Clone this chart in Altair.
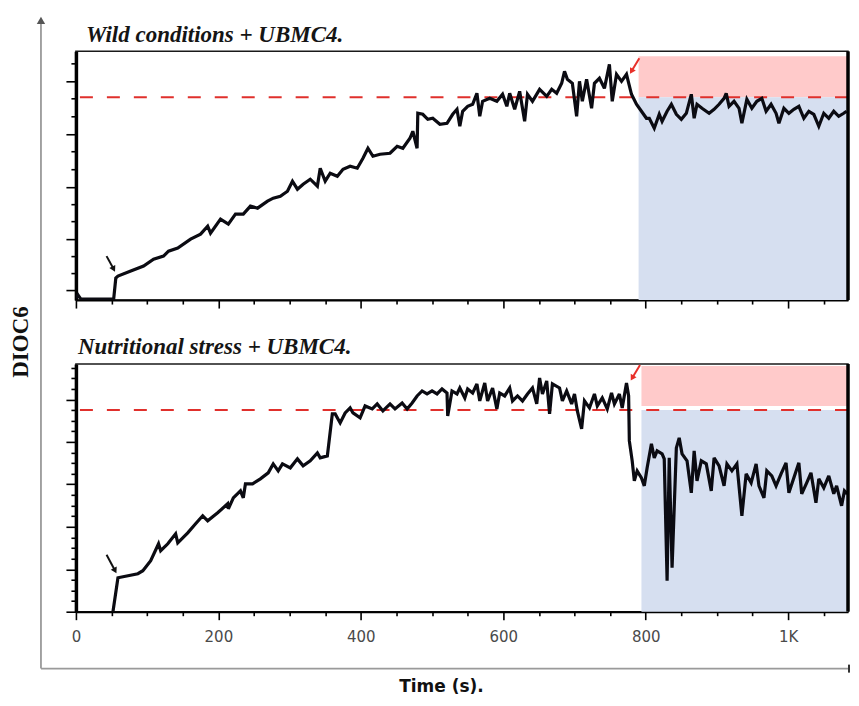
import altair as alt
import pandas as pd

# ---------------- data ----------------
# upper panel: Wild conditions + UBMC4
top_t = [0, 3, 7, 53, 56, 59, 77, 95, 109, 123,
         130, 143, 161, 175, 185, 189, 203, 214, 224, 235,
         245, 255, 269, 277, 287, 297, 304, 311, 319, 329,
         339, 343, 350, 357, 367, 375, 385, 395, 403, 410,
         417, 427, 441, 451, 459, 469, 473, 479, 480, 487,
         494, 501, 511, 521, 529, 535, 539, 543, 550, 557,
         563, 567, 571, 581, 591, 599, 605, 609, 616, 623,
         630, 634, 641, 651, 661, 668, 675, 682, 686, 690,
         697, 703, 707, 711, 717, 724, 728, 735, 742, 749,
         753, 759, 766, 773, 780, 787, 794, 801, 805, 812,
         819, 823, 830, 836, 843, 850, 857, 864, 868, 872,
         879, 889, 896, 903, 910, 913, 917, 924, 931, 935,
         942, 949, 956, 963, 969, 976, 983, 987, 994, 1001,
         1008, 1015, 1022, 1029, 1036, 1043, 1050, 1057, 1064, 1071,
         1078, 1082]
top_v = [2, 5, 1, 1, 22, 24, 29, 34, 41, 44,
         49, 52, 61, 66, 74, 67, 81, 76, 86, 86,
         94, 92, 99, 102, 104, 109, 119, 111, 116, 121,
         114, 132, 119, 127, 124, 131, 134, 132, 142, 152,
         144, 146, 147, 154, 152, 162, 169, 152, 187, 186,
         181, 182, 176, 177, 186, 191, 174, 189, 194, 196,
         207, 184, 199, 202, 199, 206, 194, 207, 191, 209,
         179, 206, 199, 211, 204, 211, 207, 217, 229, 221,
         217, 184, 219, 199, 221, 192, 217, 222, 212, 236,
         199, 226, 219, 226, 206, 196, 189, 182, 182, 172,
         186, 179, 189, 196, 186, 181, 187, 206, 182, 196,
         192, 187, 191, 196, 202, 207, 194, 199, 192, 177,
         201, 192, 199, 202, 189, 196, 187, 177, 192, 187,
         191, 194, 182, 189, 186, 174, 187, 182, 189, 184,
         187, 189]

# lower panel: Nutritional stress + UBMC4
bot_t = [52, 59, 87, 94, 105, 116, 119, 129, 140, 143,
         157, 168, 178, 185, 199, 213, 214, 221, 231, 235,
         238, 248, 259, 270, 277, 284, 290, 301, 311, 319,
         329, 339, 343, 353, 360, 364, 371, 378, 385, 389,
         399, 406, 416, 423, 431, 441, 448, 458, 465, 472,
         479, 486, 493, 500, 507, 514, 521, 522, 528, 535,
         539, 546, 550, 557, 563, 567, 574, 578, 585, 591,
         595, 602, 609, 613, 620, 627, 634, 641, 647, 651,
         655, 661, 665, 669, 679, 683, 689, 696, 700, 704,
         710, 714, 721, 728, 732, 739, 746, 752, 756, 763,
         767, 773, 776, 777, 781, 784, 788, 794, 798, 802,
         808, 812, 816, 823, 826, 830, 833, 837, 843, 847,
         851, 858, 864, 868, 872, 878, 885, 892, 896, 903,
         910, 914, 921, 928, 935, 941, 948, 955, 959, 966,
         970, 977, 983, 990, 997, 1001, 1008, 1015, 1019, 1026,
         1032, 1039, 1043, 1050, 1057, 1064, 1068, 1075, 1079, 1083]
bot_v = [0, 34, 38, 41, 51, 68, 61, 68, 78, 69,
         79, 88, 96, 91, 99, 108, 103, 114, 121, 114,
         128, 128, 133, 139, 148, 141, 148, 144, 153, 146,
         151, 159, 154, 156, 198, 198, 189, 199, 204, 199,
         194, 206, 203, 208, 201, 208, 203, 209, 203, 209,
         216, 221, 218, 221, 218, 223, 219, 196, 221, 218,
         224, 214, 223, 219, 228, 211, 229, 211, 224, 203,
         219, 216, 224, 211, 216, 211, 218, 224, 208, 234,
         218, 231, 198, 228, 224, 211, 221, 208, 218, 201,
         183, 211, 204, 218, 206, 214, 203, 219, 208, 218,
         204, 229, 216, 171, 151, 131, 141, 134, 126, 144,
         168, 154, 161, 158, 153, 31, 154, 44, 164, 174,
         158, 151, 119, 161, 131, 151, 148, 121, 154, 146,
         126, 148, 141, 148, 96, 138, 129, 148, 126, 114,
         141, 136, 126, 138, 149, 119, 134, 149, 118, 129,
         139, 109, 133, 124, 136, 118, 126, 106, 121, 118]

X_MAX = 1084
TOP_YMAX = 249
BOT_YMAX = 248

top_threshold = [203]
bot_threshold = [202]

# shaded zones after the treatment (pink above threshold, blue below)
top_shade_t0 = [790, 790]
top_shade_t1 = [X_MAX, X_MAX]
top_shade_lo = [203, 0]
top_shade_hi = [244, 203]
bot_shade_t0 = [794, 794]
bot_shade_t1 = [X_MAX, X_MAX]
bot_shade_lo = [206, 0]
bot_shade_hi = [246, 202]
shade_colors = ["#ffcaca", "#d6dff0"]

# annotation arrows: tail -> tip
top_arrow_tail_t = [43, 791]
top_arrow_tail_v = [44, 242]
top_arrow_tip_t = [53, 780]
top_arrow_tip_v = [31, 229]
bot_arrow_tail_t = [43, 792]
bot_arrow_tail_v = [57, 247]
bot_arrow_tip_t = [55, 781]
bot_arrow_tip_v = [41, 234]
arrow_colors = ["#111111", "#e8302a"]
arrow_angles = [152, 210]

x_ticks = list(range(0, 1051, 50))
top_y_major = [10, 61, 113, 166, 219]
top_y_minor = [27, 44, 79, 96, 131, 149, 184, 202, 237]
bot_y_major = [0, 42.5, 85, 127.5, 170, 212.5]
bot_y_minor = [10.6, 21.3, 31.9, 53.1, 63.8, 74.4, 95.6, 106.3, 116.9,
               138.1, 148.8, 159.4, 180.6, 191.3, 201.9, 223.1, 233.8, 244.4]

title_top = "Wild conditions + UBMC4."
title_bot = "Nutritional stress + UBMC4."
y_title = "DIOC6"
x_title = "Time (s)."

W = 773


def make_panel(t, v, thr, s_t0, s_t1, s_lo, s_hi, a_tt, a_tv, a_pt, a_pv,
               ymax, y_major, y_minor, H, show_labels, title, title_x, title_y,
               extras=()):
    xs = alt.Scale(domain=[0, X_MAX], nice=False, zero=False)
    ys = alt.Scale(domain=[0, ymax], nice=False, zero=False)
    xaxis = alt.Axis(
        values=x_ticks, title=None, grid=False,
        tickSize={"condition": {"test": "datum.value % 200 === 0", "value": 8}, "value": 4},
        tickColor="black", tickWidth=1.6,
        domainColor="black", domainWidth=2,
        labels=show_labels, labelFlush=False,
        labelExpr="datum.value % 200 === 0 ? (datum.value === 1000 ? '1K' : datum.label) : ''",
        labelFont="DejaVu Sans", labelFontSize=15, labelColor="#4a4a4a",
        labelPadding=10,
    )
    major_list = "[" + ",".join(str(m) for m in y_major) + "]"
    yaxis = alt.Axis(
        values=sorted(y_major + y_minor), title=None, grid=False, labels=False,
        tickSize={"condition": {"test": "indexof(" + major_list + ", datum.value) >= 0", "value": 10},
                  "value": 5},
        tickColor="black", tickWidth=1.6,
        domainColor="black", domainWidth=3.5,
    )

    def X(f):
        return alt.X(f, type="quantitative", scale=xs, axis=xaxis)

    def Y(f):
        return alt.Y(f, type="quantitative", scale=ys, axis=yaxis)

    shade_df = pd.DataFrame({"t": s_t0, "t2": s_t1, "v": s_lo, "v2": s_hi, "c": shade_colors})
    rect = alt.Chart(shade_df).mark_rect().encode(
        x=X("t"), x2="t2", y=Y("v"), y2="v2",
        color=alt.Color("c:N", scale=None))

    thr_df = pd.DataFrame({"v": thr})
    dashed = alt.Chart(thr_df).mark_rule(color="#e0302c", strokeWidth=2,
                                         strokeDash=[13, 14]).encode(y=Y("v"))

    series = pd.DataFrame({"t": t, "v": v})
    line = alt.Chart(series).mark_line(color="#0b0b12", strokeWidth=3.2, clip=True,
                                       strokeJoin="miter", strokeMiterLimit=3).encode(
        x=X("t"), y=Y("v"))

    arr_df = pd.DataFrame({"t": a_tt, "v": a_tv, "t2": a_pt, "v2": a_pv,
                           "c": arrow_colors, "a": arrow_angles})
    arr_line = alt.Chart(arr_df).mark_rule(strokeWidth=2).encode(
        x=X("t"), y=Y("v"), x2="t2", y2="v2", color=alt.Color("c:N", scale=None))
    arr_tip_df = pd.DataFrame({"t": a_pt, "v": a_pv, "c": arrow_colors, "a": arrow_angles})
    arr_head = alt.Chart(arr_tip_df).mark_point(shape="triangle-up", filled=True,
                                                size=45, opacity=1).encode(
        x=X("t"), y=Y("v"), color=alt.Color("c:N", scale=None),
        angle=alt.Angle("a:Q", scale=None))

    one = pd.DataFrame({"k": [0]})
    right_border = alt.Chart(one).mark_rule(color="black", strokeWidth=3.5).encode(
        x=alt.value(W), y=alt.value(0), y2=alt.value(H))
    ttl = alt.Chart(one).mark_text(
        text=title, align="left", baseline="alphabetic", font="Liberation Serif",
        fontStyle="italic", fontWeight="bold", fontSize=23, color="#151515").encode(
        x=alt.value(title_x), y=alt.value(title_y))

    layers = [rect, dashed, line, arr_line, arr_head, right_border, ttl] + list(extras)
    return alt.layer(*layers).properties(width=W, height=H)


one = pd.DataFrame({"k": [0]})
gray = "#9a9a9a"
anchor = alt.Chart(one).mark_rule(strokeOpacity=0, strokeWidth=0.5).encode(
    x=alt.value(-67), y=alt.value(-355), y2=alt.value(-354))
outer_v = alt.Chart(one).mark_rule(color=gray, strokeWidth=1.8).encode(
    x=alt.value(-35), y=alt.value(-341), y2=alt.value(305))
outer_h = alt.Chart(one).mark_rule(color=gray, strokeWidth=1.8).encode(
    x=alt.value(-35), x2=alt.value(774), y=alt.value(305))
outer_tick = alt.Chart(one).mark_rule(color="#333333", strokeWidth=2).encode(
    x=alt.value(774), y=alt.value(301), y2=alt.value(309))
outer_head = alt.Chart(one).mark_point(shape="triangle-up", filled=True, size=70,
                                       color="#555555", opacity=1).encode(
    x=alt.value(-35), y=alt.value(-344))
ylab = alt.Chart(one).mark_text(
    text=y_title, angle=270, align="center", baseline="middle",
    font="Liberation Serif", fontWeight="bold", fontSize=23, color="#111111").encode(
    x=alt.value(-55), y=alt.value(-22))
xlab = alt.Chart(one).mark_text(
    text=x_title, align="center", baseline="alphabetic",
    font="DejaVu Sans", fontWeight="bold", fontSize=17, color="#111111").encode(
    x=alt.value(366), y=alt.value(328))

top = make_panel(top_t, top_v, top_threshold, top_shade_t0, top_shade_t1,
                 top_shade_lo, top_shade_hi, top_arrow_tail_t, top_arrow_tail_v,
                 top_arrow_tip_t, top_arrow_tip_v, TOP_YMAX, top_y_major, top_y_minor,
                 249, False, title_top, 10, -9)
bottom = make_panel(bot_t, bot_v, bot_threshold, bot_shade_t0, bot_shade_t1,
                    bot_shade_lo, bot_shade_hi, bot_arrow_tail_t, bot_arrow_tail_v,
                    bot_arrow_tip_t, bot_arrow_tip_v, BOT_YMAX, bot_y_major, bot_y_minor,
                    248, True, title_bot, 2, -10,
                    extras=[anchor, outer_v, outer_h, outer_tick, outer_head, ylab, xlab])

chart = alt.vconcat(top, bottom, spacing=64, bounds="flush").properties(
    padding=0, background="white"
).configure_view(stroke="#1a1a1a", strokeWidth=1.5)

chart.save("out.html", embed_options={"renderer": "svg", "actions": False})
